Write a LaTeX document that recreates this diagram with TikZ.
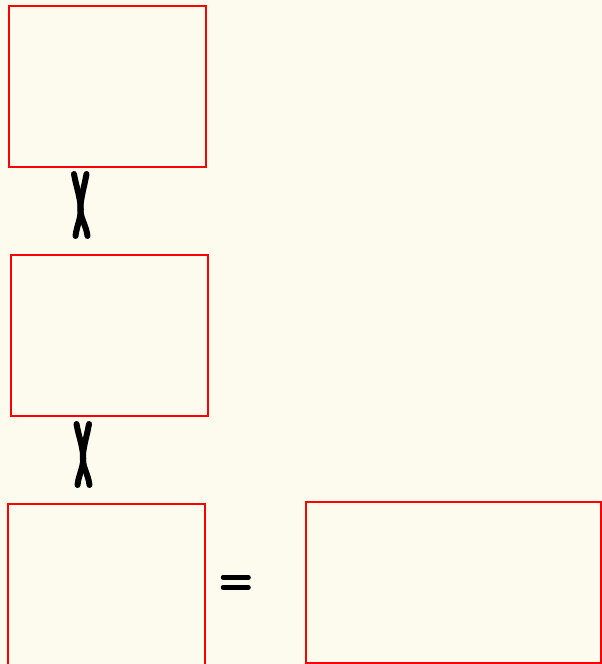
\documentclass[tikz,border=0pt]{standalone}
\definecolor{bgcream}{HTML}{FDFBEE}
\definecolor{boxred}{HTML}{FF0000}
\tikzset{
  panel/.style={draw=boxred, line width=1.5pt, fill=none},
  crossstroke/.style={draw=black, line width=6pt, line cap=round},
  eqbar/.style={draw=black, line width=4.5pt, line cap=round}
}
\begin{document}
\begin{tikzpicture}[x=1pt,y=-1pt]
\fill[bgcream] (0,0) rectangle (602,664);
\useasboundingbox (0,0) rectangle (602,664);
\node[panel, inner sep=0pt, minimum width=197pt, minimum height=161pt, anchor=north west] (b1) at (8,5) {};
\node[panel, inner sep=0pt, minimum width=197pt, minimum height=161pt, anchor=north west] (b2) at (10,254) {};
\node[panel, inner sep=0pt, minimum width=197pt, minimum height=161pt, anchor=north west] (b3) at (7,503) {};
\node[panel, inner sep=0pt, minimum width=295pt, minimum height=161pt, anchor=north west] (b4) at (305,501) {};
% first cross
\coordinate (c1) at (80.5,205);
\draw[crossstroke] (74,174) to[out=-80,in=97] (c1) to[out=-83,in=83] (75.5,236);
\draw[crossstroke] (86.5,174) to[out=-100,in=83] (c1) to[out=-97,in=97] (87.5,236);
% second cross
\coordinate (c2) at (83,454);
\draw[crossstroke] (76.5,424) to[out=-80,in=97] (c2) to[out=-83,in=83] (77.5,485);
\draw[crossstroke] (89,424) to[out=-100,in=83] (c2) to[out=-97,in=97] (89.5,485);
% equals
\coordinate (e1) at (223,577.5);
\coordinate (e2) at (248.5,577.5);
\coordinate (e3) at (223,587.5);
\coordinate (e4) at (248.5,587.5);
\draw[eqbar] (e1) -- (e2);
\draw[eqbar] (e3) -- (e4);
\end{tikzpicture}
\end{document}
